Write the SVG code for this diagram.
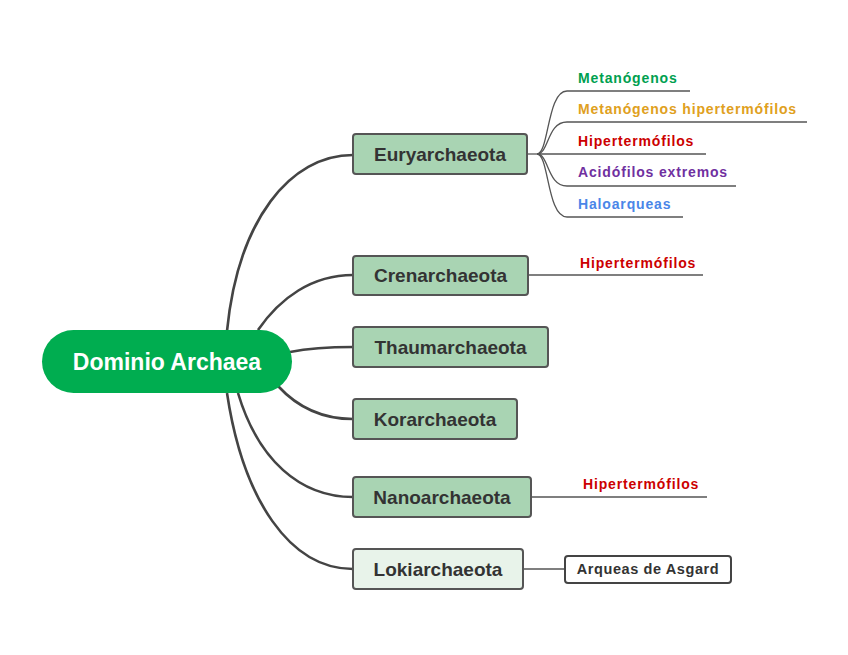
<svg xmlns="http://www.w3.org/2000/svg" width="848" height="655" viewBox="0 0 848 655">
<style>
.conn{fill:none;stroke:#444;stroke-width:2.6}
.sub{fill:none;stroke:#555;stroke-width:1.3}
.box{fill:#a9d4b3;stroke:#555;stroke-width:2}
.lbl{font-family:"Liberation Sans",Arial,sans-serif;font-weight:bold;font-size:19px;fill:#333;text-anchor:middle}
.st{font-family:"Liberation Sans",Arial,sans-serif;font-weight:bold;font-size:14px;letter-spacing:0.85px}
</style>
<rect width="848" height="655" fill="#fff"/>
<g id="connectors">
<path class="conn" d="M227,331 C238,220 290,155 353,155"/>
<path class="conn" d="M258,330 C280,298 312,275 353,275"/>
<path class="conn" d="M290,352 C310,348 330,347 353,347"/>
<path class="conn" d="M278,386 C300,410 325,419 353,419"/>
<path class="conn" d="M238,393 C258,460 300,497 353,497"/>
<path class="conn" d="M227,393 C243,500 290,569 353,569"/>
<path class="sub" d="M527,154 L537,154"/>
<path class="sub" d="M537,154 C549,154 547,91 567,91 L690,91"/>
<path class="sub" d="M537,154 C549,154 547,122 567,122 L807,122"/>
<path class="sub" d="M537,154 L706,154"/>
<path class="sub" d="M537,154 C549,154 547,186 567,186 L736,186"/>
<path class="sub" d="M537,154 C549,154 547,217 567,217 L683,217"/>
<path class="sub" d="M528,275 L703,275"/>
<path class="sub" d="M531,497 L707,497"/>
<path class="sub" d="M523,569 L565,569"/>
</g>
<g id="root">
<rect x="42" y="330" width="250" height="63" rx="31.5" fill="#00ad50"/>
<text x="167" y="370" font-family="Liberation Sans,Arial,sans-serif" font-weight="bold" font-size="23" fill="#fff" text-anchor="middle">Dominio Archaea</text>
</g>
<g id="euryarchaeota">
<rect class="box" x="353" y="134" width="174" height="40" rx="3"/>
<text class="lbl" x="440" y="161">Euryarchaeota</text>
</g>
<g id="crenarchaeota">
<rect class="box" x="353" y="256" width="175" height="39" rx="3"/>
<text class="lbl" x="440.5" y="282">Crenarchaeota</text>
</g>
<g id="thaumarchaeota">
<rect class="box" x="353" y="327" width="195" height="40" rx="3"/>
<text class="lbl" x="450.5" y="354">Thaumarchaeota</text>
</g>
<g id="korarchaeota">
<rect class="box" x="353" y="399" width="164" height="40" rx="3"/>
<text class="lbl" x="435" y="426">Korarchaeota</text>
</g>
<g id="nanoarchaeota">
<rect class="box" x="353" y="477" width="178" height="40" rx="3"/>
<text class="lbl" x="442" y="504">Nanoarchaeota</text>
</g>
<g id="lokiarchaeota">
<rect class="box" x="353" y="549" width="170" height="40" rx="3" style="fill:#e8f3ea"/>
<text class="lbl" x="438" y="576">Lokiarchaeota</text>
</g>
<g id="metanogenos"><text class="st" x="578" y="83" fill="#00a050">Metanógenos</text></g>
<g id="metanogenos-hipertermofilos"><text class="st" x="578" y="114" fill="#e0a020">Metanógenos hipertermófilos</text></g>
<g id="hipertermofilos-1"><text class="st" x="578" y="146" fill="#cc0000">Hipertermófilos</text></g>
<g id="acidofilos"><text class="st" x="578" y="177" fill="#7030a0">Acidófilos extremos</text></g>
<g id="haloarqueas"><text class="st" x="578" y="209" fill="#4a86e8">Haloarqueas</text></g>
<g id="hipertermofilos-2"><text class="st" x="580" y="268" fill="#cc0000">Hipertermófilos</text></g>
<g id="hipertermofilos-3"><text class="st" x="583" y="489" fill="#cc0000">Hipertermófilos</text></g>
<g id="asgard">
<rect x="565" y="556" width="166" height="27" rx="3" fill="#fff" stroke="#444" stroke-width="2"/>
<text class="st" x="648" y="574" fill="#333" text-anchor="middle" style="font-size:14.5px;letter-spacing:0.6px">Arqueas de Asgard</text>
</g>
</svg>
